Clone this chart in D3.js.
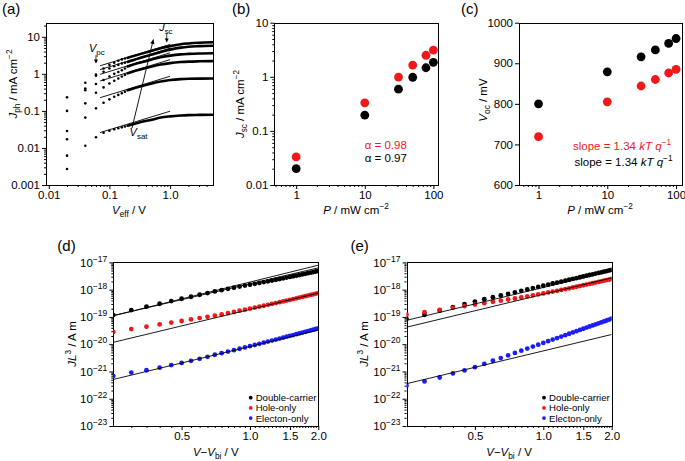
<!DOCTYPE html>
<html><head><meta charset="utf-8">
<script src="https://cdn.jsdelivr.net/npm/d3@7"></script>
<style>body{margin:0;background:#fff}</style>
</head><body>
<svg id="c" width="685" height="461"></svg>
<script>
// ---------------- DATA ----------------
// (a) photocurrent vs effective voltage
const aV = [0.02,0.04,0.06,0.08,0.10,0.12,0.14,0.16,0.18];
const aDots1 = [0.232,0.575,0.95,1.40,1.75,2.00,2.25,2.45,2.60];
const aDots2 = [0.100,0.400,0.89,1.14,1.40,1.60,1.75,1.90,2.00];
const aDots3 = [0.0286,0.360,0.53,0.68,0.85,1.00,1.12,1.25,1.40];
const aDots4 = [0.0171,0.160,0.31,0.43,0.55,0.65,0.75,0.85,0.94];
const aDots5 = [0.0062,0.066,0.117,0.166,0.205,0.24,0.27,0.30,0.33];
const aDots6 = [0.0027,0.0115,0.0194,0.0258,0.029,0.032,0.034,0.036,0.038];
const aCurveV = [0.2,0.3,0.5,0.7,1.0,1.5,2,3,5];
const aCurve1 = [2.7,3.3,4.2,4.9,5.6,6.3,6.6,6.9,7.1];
const aCurve2 = [2.1,2.6,3.3,3.9,4.5,5.1,5.4,5.6,5.75];
const aCurve3 = [1.58,1.95,2.45,2.8,3.1,3.35,3.45,3.55,3.6];
const aCurve4 = [1.03,1.27,1.58,1.78,1.95,2.08,2.14,2.18,2.2];
const aCurve5 = [0.36,0.44,0.55,0.62,0.68,0.72,0.735,0.745,0.75];
const aCurve6 = [0.040,0.048,0.058,0.066,0.071,0.075,0.077,0.078,0.079];
const aFitV = [0.07, 1.0];
const aFitStart = [1.65,1.3,0.97,0.64,0.227,0.026];
const aFitEnd = [6.2,4.9,3.7,2.42,0.86,0.098];
const aXTicks = [0.01,0.1,1], aXTickLabels = ["0.01","0.1","1.0"];
const aYTicks = [0.001,0.01,0.1,1,10], aYTickLabels = ["0.001","0.01","0.1","1","10"];

// (b),(c) light-intensity dependence
const bcP = [1,10,31,50,78,100];
const bJscRed = [0.033,0.33,0.99,1.65,2.5,3.1];
const bJscBlack = [0.020,0.195,0.59,0.98,1.47,1.85];
const cVocBlack = [800,879,916,933,949,961];
const cVocRed = [719,805,844,860,876,885];
const bcXTicks = [1,10,100];
const bYTicks = [0.01,0.1,1,10], bYTickLabels = ["0.01","0.1","1","10"];
const cYTicks = [600,700,800,900,1000];

// (d),(e) SCLC  J*L^3 vs V-Vbi
const deV = [0.25,0.30,0.35,0.40,0.45,0.50,0.55,0.60,0.65,0.70,0.75,0.80,0.85,0.90,0.95,1.00,1.05,1.10,1.15,1.20,1.25,1.30,1.35,1.40,1.45,1.50,1.55,1.60,1.65,1.70,1.75,1.80,1.85,1.90,1.95,2.00];
const dDouble = [1.17e-19,1.79e-19,2.37e-19,3.05e-19,3.82e-19,4.65e-19,5.5e-19,6.5e-19,7.5e-19,8.6e-19,9.6e-19,1.07e-18,1.18e-18,1.3e-18,1.41e-18,1.52e-18,1.64e-18,1.77e-18,1.9e-18,2.03e-18,2.17e-18,2.31e-18,2.46e-18,2.61e-18,2.77e-18,2.93e-18,3.1e-18,3.27e-18,3.45e-18,3.63e-18,3.82e-18,4.01e-18,4.21e-18,4.42e-18,4.63e-18,4.85e-18];
const dHole = [2.8e-20,3.6e-20,4.4e-20,5.3e-20,6.2e-20,7.1e-20,8.1e-20,9.1e-20,1.01e-19,1.11e-19,1.24e-19,1.38e-19,1.53e-19,1.69e-19,1.85e-19,2.02e-19,2.2e-19,2.38e-19,2.57e-19,2.78e-19,3.0e-19,3.23e-19,3.47e-19,3.72e-19,3.98e-19,4.25e-19,4.53e-19,4.82e-19,5.12e-19,5.43e-19,5.75e-19,6.08e-19,6.42e-19,6.77e-19,7.13e-19,7.5e-19];
const dElectron = [6.8e-22,9.1e-22,1.11e-21,1.38e-21,1.72e-21,2.05e-21,2.45e-21,2.9e-21,3.45e-21,4.1e-21,4.7e-21,5.35e-21,6.05e-21,6.8e-21,7.6e-21,8.45e-21,9.35e-21,1.03e-20,1.14e-20,1.25e-20,1.36e-20,1.48e-20,1.61e-20,1.74e-20,1.88e-20,2.02e-20,2.17e-20,2.33e-20,2.49e-20,2.66e-20,2.84e-20,3.02e-20,3.21e-20,3.41e-20,3.61e-20,3.82e-20];
const eDouble = [8.5e-20,1.19e-19,1.7e-19,2.3e-19,2.95e-19,3.67e-19,4.47e-19,5.3e-19,6.1e-19,7.0e-19,8.0e-19,9.06e-19,1.02e-18,1.14e-18,1.26e-18,1.39e-18,1.53e-18,1.68e-18,1.82e-18,1.98e-18,2.14e-18,2.31e-18,2.49e-18,2.67e-18,2.85e-18,3.05e-18,3.25e-18,3.45e-18,3.66e-18,3.88e-18,4.1e-18,4.33e-18,4.57e-18,4.81e-18,5.06e-18,5.3e-18];
const eHole = [1.2e-19,1.5e-19,1.82e-19,2.15e-19,2.5e-19,2.85e-19,3.2e-19,3.6e-19,3.95e-19,4.35e-19,4.75e-19,5.2e-19,5.7e-19,6.2e-19,6.75e-19,7.3e-19,7.9e-19,8.5e-19,9.1e-19,9.8e-19,1.05e-18,1.12e-18,1.2e-18,1.28e-18,1.36e-18,1.45e-18,1.54e-18,1.63e-18,1.72e-18,1.82e-18,1.92e-18,2.02e-18,2.13e-18,2.24e-18,2.35e-18,2.46e-18];
const eElectron = [2.99e-22,4.3e-22,6.0e-22,8.45e-22,1.09e-21,1.44e-21,1.91e-21,2.47e-21,3.09e-21,3.89e-21,4.77e-21,5.77e-21,6.9e-21,8.17e-21,9.57e-21,1.11e-20,1.29e-20,1.48e-20,1.68e-20,1.91e-20,2.15e-20,2.42e-20,2.7e-20,3.0e-20,3.33e-20,3.68e-20,4.06e-20,4.46e-20,4.89e-20,5.33e-20,5.81e-20,6.31e-20,6.84e-20,7.4e-20,8.0e-20,8.6e-20];
const fitV = [0.25, 2.0];
const dFits = [[1.1e-19,7.9e-18],[1.12e-19,6.3e-18],[1.17e-20,7.5e-19],[5.1e-22,3.3e-20]];
const eFits = [[7.5e-20,4.8e-18],[4.2e-20,2.7e-18],[3.55e-22,2.27e-20]];
const deXTicks = [0.5,1.0,1.5,2.0], deXTickLabels = ["0.5","1.0","1.5","2.0"];
const deXMinor = [0.30,0.35,0.40,0.45,0.55,0.60,0.65,0.70,0.75,0.80,0.85,0.90,0.95,1.05,1.10,1.15,1.20,1.25,1.30,1.35,1.40,1.45,1.55,1.60,1.65,1.70,1.75,1.80,1.85,1.90,1.95];
const deYTicks = [1e-23,1e-22,1e-21,1e-20,1e-19,1e-18,1e-17];
const legendLabels = ["Double-carrier","Hole-only","Electon-only"];

// ---------------- STYLE ----------------
const RED = "#f01818", BLUE = "#1c1cff", BLACK = "#000";
const FONT = "'Liberation Sans', Arial, sans-serif";
const TICKFS = 11.5, TITLEFS = 11.5;

const svg = d3.select("#c").attr("font-family", FONT);

function rich(t, parts) {
  let shift = 0;
  parts.forEach(p => {
    const ts = t.append("tspan").text(p.t);
    const target = p.sub ? 3 : (p.sup ? -5 : 0);
    ts.attr("dy", target - shift); shift = target;
    if (p.sub || p.sup) ts.attr("font-size", "0.72em");
    if (p.it) ts.attr("font-style", "italic");
  });
  return t;
}
function logMinors(lo, hi) {
  const out = [];
  for (let e = Math.floor(Math.log10(lo)) - 1; e <= Math.ceil(Math.log10(hi)); e++)
    for (let k = 2; k <= 9; k++) { const v = k * Math.pow(10, e); if (v > lo * 1.0001 && v < hi * 0.9999) out.push(v); }
  return out;
}
function axis(g, scale, orient, pos, majors, fmt, minors) {
  const mk = orient === "bottom" ? d3.axisBottom : d3.axisLeft;
  const tr = orient === "bottom" ? `translate(0,${pos})` : `translate(${pos},0)`;
  if (minors && minors.length) {
    const m = g.append("g").attr("transform", tr).call(mk(scale).tickValues(minors).tickFormat("").tickSize(2).tickSizeOuter(0));
    m.select(".domain").remove();
  }
  const ax = g.append("g").attr("transform", tr)
    .call(mk(scale).tickValues(majors).tickFormat(fmt).tickSize(4).tickSizeOuter(0).tickPadding(2));
  ax.select(".domain").remove();
  ax.attr("font-family", FONT).attr("font-size", TICKFS);
  ax.selectAll("text").attr("fill", "#000");
  return ax;
}
function frame(g, x, y) {
  const [x0, x1] = x.range(), [y1, y0] = y.range();
  g.append("rect").attr("x", Math.round(x0) + 0.5).attr("y", Math.round(y0) + 0.5)
    .attr("width", Math.round(x1) - Math.round(x0)).attr("height", Math.round(y1) - Math.round(y0))
    .attr("fill", "none").attr("stroke", "#000").attr("stroke-width", 1);
}
function clip(id, x, y) {
  const [x0, x1] = x.range(), [y1, y0] = y.range();
  svg.append("clipPath").attr("id", id).append("rect").attr("x", x0).attr("y", y0).attr("width", x1 - x0).attr("height", y1 - y0);
}
function panelLabel(txt, x, y) {
  svg.append("text").attr("x", x).attr("y", y).attr("font-size", 15).text(txt);
}
function yTitle(x, y, parts) {
  rich(svg.append("text").attr("transform", `translate(${x},${y}) rotate(-90)`).attr("text-anchor", "middle").attr("font-size", TITLEFS), parts);
}
function xTitle(x, y, parts) {
  rich(svg.append("text").attr("x", x).attr("y", y).attr("text-anchor", "middle").attr("font-size", TITLEFS), parts);
}
function arrowHead(g, x, y, dir, size) {
  const s = size || 4, a = 0.45;
  const p1 = [x - s * Math.cos(dir - a), y - s * Math.sin(dir - a)];
  const p2 = [x - s * Math.cos(dir + a), y - s * Math.sin(dir + a)];
  g.append("path").attr("d", `M${x},${y}L${p1[0]},${p1[1]}L${p2[0]},${p2[1]}Z`).attr("fill", "#000");
}

// ---------------- PANEL (a) ----------------
{
  const x = d3.scaleLog().domain([0.009, 5]).range([46, 212.5]);
  const y = d3.scaleLog().domain([0.001, 24]).range([185, 22.7]);
  const g = svg.append("g");
  frame(g, x, y);
  axis(g, x, "bottom", 185, aXTicks, (d, i) => aXTickLabels[i], logMinors(0.009, 5));
  axis(g, y, "left", 46, aYTicks, (d, i) => aYTickLabels[i], logMinors(0.001, 24));
  const dots = [aDots1, aDots2, aDots3, aDots4, aDots5, aDots6];
  const curves = [aCurve1, aCurve2, aCurve3, aCurve4, aCurve5, aCurve6];
  const line = d3.line().x(d => x(d[0])).y(d => y(d[1])).curve(d3.curveMonotoneX);
  curves.forEach(c => {
    g.append("path").attr("d", line(aCurveV.map((v, i) => [v, c[i]])))
      .attr("fill", "none").attr("stroke", "#000").attr("stroke-width", 2.6).attr("stroke-linecap", "round");
  });
  dots.forEach(ds => {
    g.selectAll(null).data(aV.map((v, i) => [v, ds[i]])).enter().append("circle")
      .attr("cx", d => x(d[0])).attr("cy", d => y(d[1])).attr("r", 1.3).attr("fill", "#000");
  });
  aFitStart.forEach((s, i) => {
    g.append("line").attr("x1", x(aFitV[0])).attr("y1", y(s)).attr("x2", x(aFitV[1])).attr("y2", y(aFitEnd[i]))
      .attr("stroke", "#000").attr("stroke-width", 0.9);
  });
  const vpc = 0.06;
  g.append("line").attr("x1", x(vpc)).attr("y1", y(3.2)).attr("x2", x(vpc)).attr("y2", y(2.0)).attr("stroke", "#000").attr("stroke-width", 0.8);
  arrowHead(g, x(vpc), y(1.9), Math.PI / 2, 4.5);
  rich(g.append("text").attr("x", x(0.046)).attr("y", y(3.9)).attr("font-size", 11), [{t: "V", it: 1}, {t: "pc", sub: 1}]);
  const jsc = 0.88;
  g.append("line").attr("x1", x(jsc)).attr("y1", y(12.5)).attr("x2", x(jsc)).attr("y2", y(7.4)).attr("stroke", "#000").attr("stroke-width", 0.8);
  arrowHead(g, x(jsc), y(7.0), Math.PI / 2, 4.5);
  rich(g.append("text").attr("x", x(0.66)).attr("y", y(14.5)).attr("font-size", 11), [{t: "J", it: 1}, {t: "sc", sub: 1}]);
  const sx1 = x(0.235), sy1 = y(0.034), sx2 = x(0.53), sy2 = y(8.5);
  g.append("line").attr("x1", sx1).attr("y1", sy1).attr("x2", sx2).attr("y2", sy2).attr("stroke", "#000").attr("stroke-width", 0.9);
  arrowHead(g, sx2, sy2, Math.atan2(sy2 - sy1, sx2 - sx1), 5);
  rich(g.append("text").attr("x", x(0.215)).attr("y", y(0.0205)).attr("font-size", 11), [{t: "V", it: 1}, {t: "sat", sub: 1}]);
  panelLabel("(a)", 2, 14);
  yTitle(17, 84, [{t: "J", it: 1}, {t: "ph", sub: 1}, {t: " / mA cm"}, {t: "−2", sup: 1}]);
  xTitle(129, 214, [{t: "V", it: 1}, {t: "eff", sub: 1}, {t: " / V"}]);
}

// ---------------- PANEL (b) ----------------
{
  const x = d3.scaleLog().domain([0.48, 118]).range([274.3, 438.3]);
  const y = d3.scaleLog().domain([0.01, 10]).range([185, 22.7]);
  const g = svg.append("g");
  frame(g, x, y);
  axis(g, x, "bottom", 185, bcXTicks, d3.format("d"), logMinors(0.48, 118));
  axis(g, y, "left", 274.3, bYTicks, (d, i) => bYTickLabels[i], logMinors(0.01, 10));
  [[bJscRed, RED], [bJscBlack, BLACK]].forEach(([arr, col]) => {
    g.selectAll(null).data(bcP.map((p, i) => [p, arr[i]])).enter().append("circle")
      .attr("cx", d => x(d[0])).attr("cy", d => y(d[1])).attr("r", 4.4).attr("fill", col);
  });
  g.append("text").attr("x", x(10)).attr("y", 148.5).attr("font-size", 11.5).attr("fill", RED).text("α = 0.98");
  g.append("text").attr("x", x(10)).attr("y", 161.5).attr("font-size", 11.5).attr("fill", BLACK).text("α = 0.97");
  panelLabel("(b)", 232, 14);
  yTitle(244, 104, [{t: "J", it: 1}, {t: "sc", sub: 1}, {t: " / mA cm"}, {t: "−2", sup: 1}]);
  xTitle(356, 214, [{t: "P", it: 1}, {t: " / mW cm"}, {t: "−2", sup: 1}]);
}

// ---------------- PANEL (c) ----------------
{
  const x = d3.scaleLog().domain([0.52, 122]).range([519, 682]);
  const y = d3.scaleLinear().domain([600, 1000]).range([185, 22.7]);
  const g = svg.append("g");
  frame(g, x, y);
  axis(g, x, "bottom", 185, bcXTicks, d3.format("d"), logMinors(0.52, 122));
  axis(g, y, "left", 519, cYTicks, d3.format("d"), []);
  [[cVocBlack, BLACK], [cVocRed, RED]].forEach(([arr, col]) => {
    g.selectAll(null).data(bcP.map((p, i) => [p, arr[i]])).enter().append("circle")
      .attr("cx", d => x(d[0])).attr("cy", d => y(d[1])).attr("r", 4.4).attr("fill", col);
  });
  rich(g.append("text").attr("x", 573).attr("y", 149.5).attr("font-size", 11.5).attr("fill", RED),
    [{t: "slope = 1.34 "}, {t: "kT", it: 1}, {t: " "}, {t: "q", it: 1}, {t: "−1", sup: 1}]);
  rich(g.append("text").attr("x", 574.5).attr("y", 166).attr("font-size", 11.5).attr("fill", BLACK),
    [{t: "slope = 1.34 "}, {t: "kT", it: 1}, {t: " "}, {t: "q", it: 1}, {t: "−1", sup: 1}]);
  panelLabel("(c)", 461, 14);
  yTitle(487, 100, [{t: "V", it: 1}, {t: "oc", sub: 1}, {t: " / mV"}]);
  xTitle(600, 214, [{t: "P", it: 1}, {t: " / mW cm"}, {t: "−2", sup: 1}]);
}

// ---------------- PANELS (d),(e) ----------------
function sclcPanel(id, x0, x1, series, fits, label, lx, ytx) {
  const x = d3.scaleLog().domain([0.25, 2.0]).range([x0, x1]);
  const y = d3.scaleLog().domain([1e-23, 1e-17]).range([426, 262.4]);
  const g = svg.append("g");
  clip("clip" + id, x, y);
  frame(g, x, y);
  axis(g, x, "bottom", 426, deXTicks, (d, i) => deXTickLabels[i], deXMinor);
  const ax = axis(g, y, "left", x0, deYTicks, d => "", logMinors(1e-23, 1e-17));
  ax.selectAll(".tick text").each(function(d) {
    const t = d3.select(this);
    t.append("tspan").text("10");
    t.append("tspan").attr("dy", -5).attr("font-size", 8.5).text("−" + Math.round(-Math.log10(d)));
  });
  const pg = g.append("g").attr("clip-path", `url(#clip${id})`);
  series.forEach(([arr, col]) => {
    pg.selectAll(null).data(deV.map((v, i) => [v, arr[i]])).enter().append("circle")
      .attr("cx", d => x(d[0])).attr("cy", d => y(d[1])).attr("r", 2.4).attr("fill", col);
  });
  fits.forEach(f => {
    pg.append("line").attr("x1", x(fitV[0])).attr("y1", y(f[0])).attr("x2", x(fitV[1])).attr("y2", y(f[1]))
      .attr("stroke", "#000").attr("stroke-width", 0.9);
  });
  const lg = g.append("g");
  [BLACK, RED, BLUE].forEach((col, i) => {
    lg.append("circle").attr("cx", lx).attr("cy", 397.7 + i * 10.2).attr("r", 1.9).attr("fill", col);
    lg.append("text").attr("x", lx + 5).attr("y", 401.2 + i * 10.2).attr("font-size", 9.6).text(legendLabels[i]);
  });
  panelLabel(label, x0 - 56, 251);
  yTitle(ytx, 344, [{t: "J", it: 1}, {t: "L", it: 1}, {t: "3", sup: 1}, {t: " / A m"}]);
  xTitle((x0 + x1) / 2, 456, [{t: "V", it: 1}, {t: "−"}, {t: "V", it: 1}, {t: "bi", sub: 1}, {t: " / V"}]);
}
sclcPanel("d", 113.3, 318.3, [[dDouble, BLACK], [dHole, RED], [dElectron, BLUE]], dFits, "(d)", 250.7, 76);
sclcPanel("e", 406.5, 611.7, [[eDouble, BLACK], [eHole, RED], [eElectron, BLUE]], eFits, "(e)", 544, 368);
</script>
</body></html>
